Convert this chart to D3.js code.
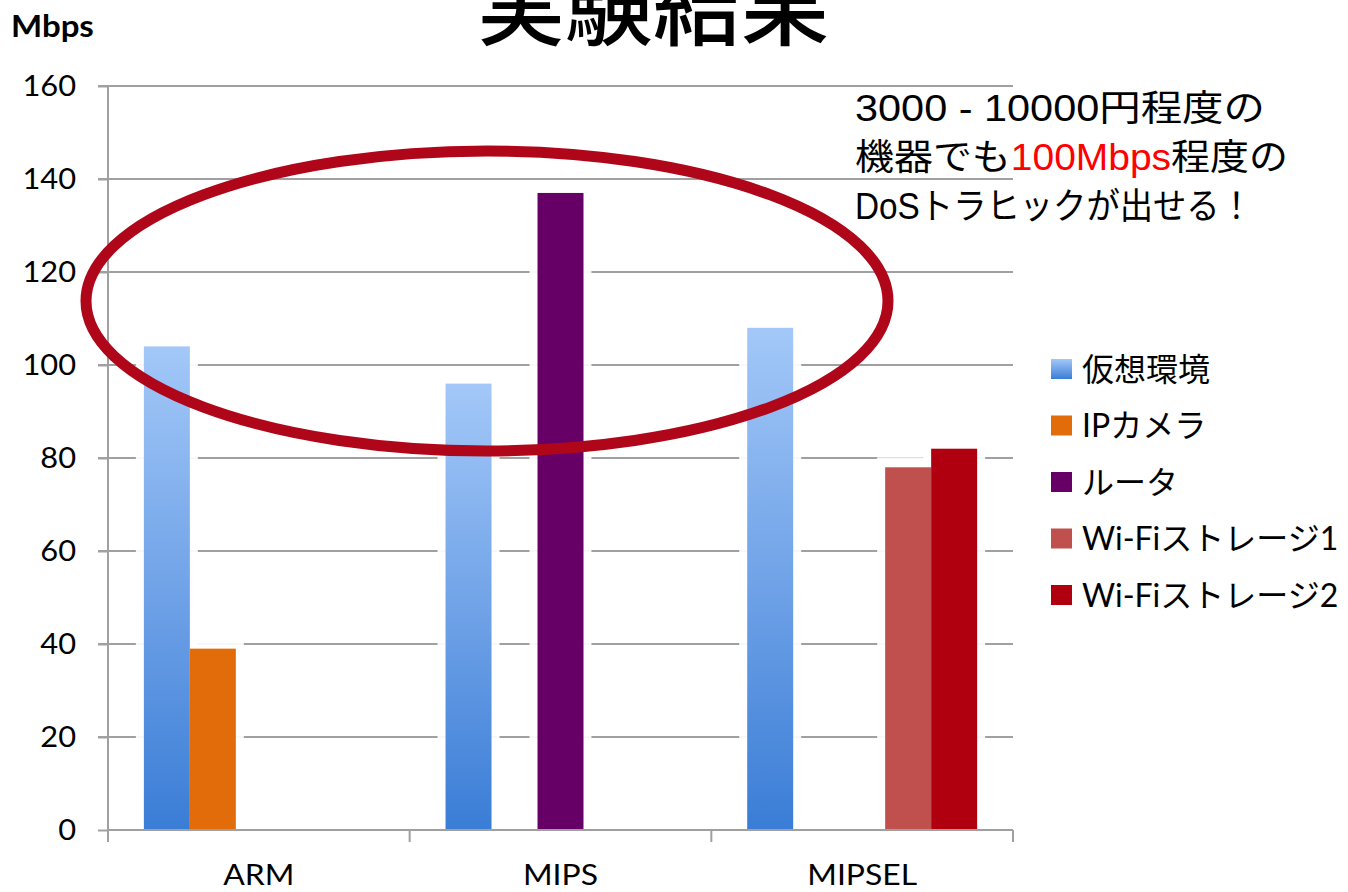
<!DOCTYPE html>
<html>
<head>
<meta charset="utf-8">
<script src="https://cdn.jsdelivr.net/npm/d3@7"></script>
<style>
  html, body { margin: 0; padding: 0; background: #ffffff; }
  svg { display: block; }
</style>
</head>
<body>
<svg id="chart" width="1348" height="892"></svg>
<script>
// Throughput per architecture (Mbps)
const categories = ["ARM", "MIPS", "MIPSEL"];
const seriesNames = ["仮想環境", "IPカメラ", "ルータ", "Wi-Fiストレージ1", "Wi-Fiストレージ2"];
const virtualEnv   = [104, 96, 108];
const ipCamera     = [39, null, null];
const router       = [null, 137, null];
const wifiStorage1 = [null, null, 78];
const wifiStorage2 = [null, null, 82];
const yTicks = [0, 20, 40, 60, 80, 100, 120, 140, 160];

const titleText = "実験結果";
const unitLabel = "Mbps";
const noteLines = [
  [{ t: "3000 - 10000円程度の" }],
  [{ t: "機器でも" }, { t: "100Mbps", red: true }, { t: "程度の" }],
  [{ t: "DoSトラヒックが出せる！" }]
];

const seriesValues = [virtualEnv, ipCamera, router, wifiStorage1, wifiStorage2];
const seriesFill = ["url(#blueGrad)", "#e36c0a", "#660066", "#c0504d", "#b0000f"];

const svg = d3.select("#chart");
const latin = "Lato, 'Noto Sans CJK JP', sans-serif";
const sx = 1.1; // horizontal stretch for axis text

// gradient for the virtual-environment bars
const defs = svg.append("defs");
const grad = defs.append("linearGradient").attr("id", "blueGrad")
  .attr("x1", 0).attr("y1", 0).attr("x2", 0).attr("y2", 1);
grad.append("stop").attr("offset", "0%").attr("stop-color", "#a3c8f8");
grad.append("stop").attr("offset", "55%").attr("stop-color", "#6b9fe6");
grad.append("stop").attr("offset", "100%").attr("stop-color", "#3a7dd6");

const plot = { left: 108, right: 1013, top: 86, bottom: 830 };

const y = d3.scaleLinear().domain([0, 160]).range([plot.bottom, plot.top]);
const x0 = d3.scaleBand().domain(categories).range([plot.left, plot.right]).padding(0);
const x1 = d3.scaleBand().domain(d3.range(seriesNames.length))
  .range([0, x0.bandwidth()]).paddingInner(0).paddingOuter(0.78);

const gridColor = "#a0a0a0";

// horizontal gridlines (with the short tick on the left)
svg.append("g").selectAll("line").data(yTicks.filter(d => d > 0)).join("line")
  .attr("x1", plot.left - 10).attr("x2", plot.right)
  .attr("y1", d => y(d)).attr("y2", d => y(d))
  .attr("stroke", gridColor).attr("stroke-width", 2);

// flatten bars
const bars = [];
categories.forEach((c, ci) => {
  seriesValues.forEach((vals, si) => {
    if (vals[ci] != null) bars.push({ cat: c, s: si, v: vals[ci] });
  });
});

// soft white halo behind bars
svg.append("g").selectAll("rect").data(bars).join("rect")
  .attr("x", d => x0(d.cat) + x1(d.s) - 8)
  .attr("y", d => y(d.v) - 10)
  .attr("width", x1.bandwidth() + 16)
  .attr("height", d => y(0) - y(d.v) + 14)
  .attr("fill", "#ffffff").attr("opacity", 0.92);

// bars
svg.append("g").selectAll("rect").data(bars).join("rect")
  .attr("x", d => x0(d.cat) + x1(d.s))
  .attr("y", d => y(d.v))
  .attr("width", x1.bandwidth())
  .attr("height", d => y(0) - y(d.v))
  .attr("fill", d => seriesFill[d.s]);

// y axis
const yAxis = svg.append("g").attr("transform", `translate(${plot.left},0)`)
  .call(d3.axisLeft(y).tickValues(yTicks).tickSize(10).tickPadding(0).tickFormat(""));
yAxis.select(".domain").remove();
yAxis.selectAll(".tick line").attr("stroke", gridColor).attr("stroke-width", 2);
svg.append("line").attr("x1", plot.left).attr("x2", plot.left)
  .attr("y1", plot.top).attr("y2", plot.bottom + 12)
  .attr("stroke", gridColor).attr("stroke-width", 2);

yTicks.forEach(t => {
  svg.append("text")
    .attr("transform", `translate(76,${y(t)}) scale(${sx},1)`)
    .attr("dy", "0.36em")
    .attr("text-anchor", "end")
    .attr("font-family", latin).attr("font-size", 28).attr("fill", "#000")
    .text(t);
});

// x axis
const xAxis = svg.append("g").attr("transform", `translate(0,${plot.bottom})`)
  .call(d3.axisBottom(x0).tickSize(0).tickFormat(""));
xAxis.select(".domain").remove();
svg.append("line").attr("x1", plot.left).attr("x2", plot.right)
  .attr("y1", plot.bottom).attr("y2", plot.bottom)
  .attr("stroke", gridColor).attr("stroke-width", 2);
const boundaries = categories.map(c => x0(c)).concat([plot.right]);
svg.append("g").selectAll("line").data(boundaries.slice(1)).join("line")
  .attr("x1", d => d).attr("x2", d => d)
  .attr("y1", plot.bottom).attr("y2", plot.bottom + 12)
  .attr("stroke", gridColor).attr("stroke-width", 2);

categories.forEach(c => {
  svg.append("text")
    .attr("transform", `translate(${x0(c) + x0.bandwidth() / 2},885) scale(${sx},1)`)
    .attr("text-anchor", "middle")
    .attr("font-family", latin).attr("font-size", 29).attr("fill", "#000")
    .text(c);
});

// unit label
svg.append("text")
  .attr("transform", `translate(11,37) scale(${sx},1)`)
  .attr("font-family", latin).attr("font-weight", 700).attr("font-size", 30)
  .attr("fill", "#000").text(unitLabel);

// title
svg.append("text")
  .attr("x", 653).attr("y", 38)
  .attr("text-anchor", "middle")
  .attr("font-family", "'Noto Sans CJK JP', sans-serif")
  .attr("font-weight", 500).attr("font-size", 88).attr("fill", "#000")
  .text(titleText);

// highlight ellipse
svg.append("ellipse")
  .attr("cx", 487).attr("cy", 301).attr("rx", 401).attr("ry", 150)
  .attr("fill", "none").attr("stroke", "#b0061a").attr("stroke-width", 11);

// note
const noteWidths = [410, 433, 398];
noteLines.forEach((segs, i) => {
  const t = svg.append("text")
    .attr("x", 855).attr("y", 121 + i * 49)
    .attr("font-family", "'Liberation Sans', 'Noto Sans CJK JP', sans-serif")
    .attr("font-size", 36).attr("fill", "#000")
    .attr("textLength", noteWidths[i]).attr("lengthAdjust", "spacingAndGlyphs");
  segs.forEach(s => {
    t.append("tspan").attr("fill", s.red ? "#ff0000" : "#000").text(s.t);
  });
});

// legend
const legend = svg.append("g");
seriesNames.forEach((name, i) => {
  const cy = 369 + i * 56.5;
  legend.append("rect")
    .attr("x", 1051).attr("y", cy - 10).attr("width", 21).attr("height", 20)
    .attr("fill", seriesFill[i]);
  legend.append("text")
    .attr("x", 1082).attr("y", cy).attr("dy", "0.36em")
    .attr("font-family", latin).attr("font-size", 32).attr("fill", "#000")
    .text(name);
});
</script>
</body>
</html>
